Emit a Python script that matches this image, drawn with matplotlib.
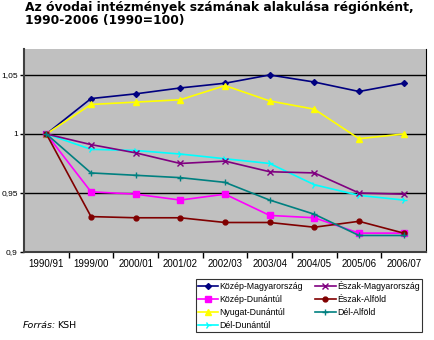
import matplotlib.pyplot as plt
from matplotlib.ticker import FixedLocator, FuncFormatter

# Évek (tanévek)
evek = ['1990/91', '1999/00', '2000/01', '2001/02', '2002/03',
        '2003/04', '2004/05', '2005/06', '2006/07']

# Régiók, 1990 = 1
kozep_magyarorszag = [1.000, 1.030, 1.034, 1.039, 1.043, 1.050, 1.044, 1.036, 1.043]
kozep_dunantul = [1.000, 0.951, 0.949, 0.944, 0.949, 0.931, 0.929, 0.916, 0.916]
nyugat_dunantul = [1.000, 1.025, 1.027, 1.029, 1.041, 1.028, 1.021, 0.996, 1.000]
del_dunantul = [1.000, 0.987, 0.986, 0.983, 0.979, 0.975, 0.957, 0.948, 0.944]
eszak_magyarorszag = [1.000, 0.991, 0.984, 0.975, 0.977, 0.968, 0.967, 0.950, 0.949]
eszak_alfold = [1.000, 0.930, 0.929, 0.929, 0.925, 0.925, 0.921, 0.926, 0.916]
del_alfold = [1.000, 0.967, 0.965, 0.963, 0.959, 0.944, 0.932, 0.914, 0.914]

sorozatok = [
    ('Közép-Magyarország', kozep_magyarorszag, '#000080', 'D', 3),
    ('Közép-Dunántúl', kozep_dunantul, '#FF00FF', 's', 4),
    ('Nyugat-Dunántúl', nyugat_dunantul, '#FFFF00', '^', 4),
    ('Dél-Dunántúl', del_dunantul, '#00FFFF', '4', 5),
    ('Észak-Magyarország', eszak_magyarorszag, '#800080', 'x', 4),
    ('Észak-Alföld', eszak_alfold, '#800000', 'o', 3.5),
    ('Dél-Alföld', del_alfold, '#008080', '+', 5),
]

fig = plt.figure(figsize=(4.34, 3.40), dpi=100)
ax = fig.add_axes([24 / 434, 1 - 252 / 340, (426 - 24) / 434, (252 - 49) / 340])
ax.set_facecolor('#C0C0C0')

x = list(range(len(evek)))
for nev, ertekek, szin, jel, meret in sorozatok:
    ax.plot(x, ertekek, color=szin, marker=jel, markersize=meret,
            markeredgecolor=szin, markeredgewidth=1.0, linewidth=1.2,
            label=nev, zorder=3)

ax.set_xlim(-0.5, len(evek) - 0.5)
ax.set_ylim(0.9, 1.072)

ax.set_xticks(x)
ax.set_xticklabels(evek, fontfamily='Liberation Sans', fontsize=7)
ax.xaxis.set_minor_locator(FixedLocator([i + 0.5 for i in range(len(evek) - 1)]))
ax.tick_params(axis='x', which='major', length=0, pad=5)
ax.tick_params(axis='x', which='minor', length=4, width=1, direction='out')

ax.set_yticks([0.9, 0.95, 1.0, 1.05])
ax.yaxis.set_major_formatter(FuncFormatter(
    lambda v, p: ('%g' % round(v, 2)).replace('.', ',')))
ax.tick_params(axis='y', length=3, width=1, labelsize=6, pad=1.5)
for lbl in ax.get_yticklabels():
    lbl.set_fontfamily('Liberation Sans')

ax.grid(axis='y', color='black', linewidth=1)
ax.set_axisbelow(True)
for s in ['left', 'bottom']:
    ax.spines[s].set_color('#404040')
    ax.spines[s].set_linewidth(1.5)
ax.spines['right'].set_color('black')
ax.spines['top'].set_visible(False)

fig.text(25 / 434, 1 - 24 / 340,
         'Az óvodai intézmények számának alakulása régiónként,\n1990-2006 (1990=100)',
         fontsize=8.9, fontweight='bold', va='baseline', linespacing=1.05,
         fontfamily='DejaVu Sans')

leg = fig.legend(loc='upper left', bbox_to_anchor=(196 / 434, 1 - 279 / 340),
                 ncol=2, frameon=True, fancybox=False, edgecolor='black',
                 prop={'family': 'Liberation Sans', 'size': 6.3},
                 handlelength=2.3, handletextpad=0.15, columnspacing=1.4,
                 labelspacing=0.45, borderpad=0.25, borderaxespad=0)
leg.get_frame().set_linewidth(0.8)

fig.text(23 / 434, 1 - 328 / 340, 'Forrás:', fontsize=6.8, style='italic',
         fontfamily='DejaVu Sans')
fig.text(57 / 434, 1 - 328 / 340, 'KSH', fontsize=6.8, fontfamily='DejaVu Sans')

fig.savefig('out.png', dpi=100)
